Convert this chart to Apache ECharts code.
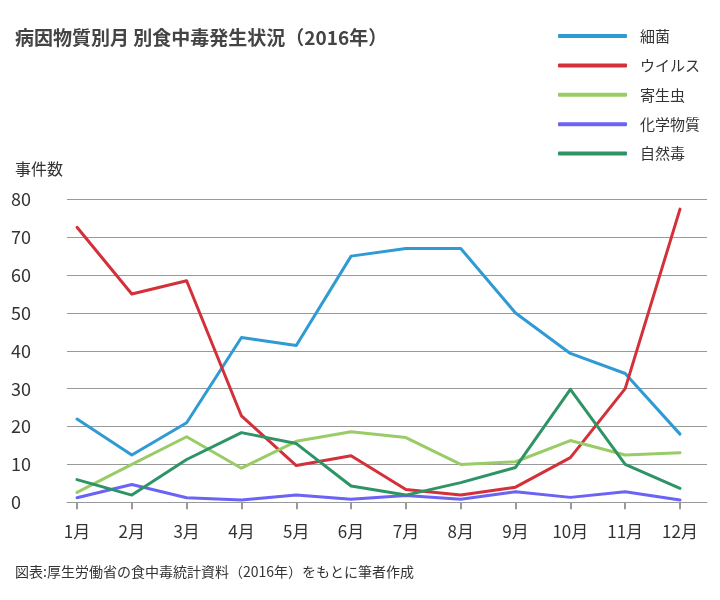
<!DOCTYPE html>
<html><head><meta charset="utf-8">
<script src="https://cdn.jsdelivr.net/npm/echarts@6/dist/echarts.min.js"></script>
<style>html,body{margin:0;padding:0;background:#fff}#c{width:720px;height:600px}</style>
</head><body><div id="c"></div>
<script>
const months = [1,2,3,4,5,6,7,8,9,10,11,12];
const monthLabels = ['1月','2月','3月','4月','5月','6月','7月','8月','9月','10月','11月','12月'];
const seriesNames = ['細菌','ウイルス','寄生虫','化学物質','自然毒'];
const bacteria  = [22, 12.5, 21, 43.5, 41.4, 65, 67, 67, 50, 39.3, 34, 18];
const virus     = [72.6, 55, 58.5, 22.8, 9.7, 12.3, 3.4, 1.9, 4, 11.8, 30, 77.4];
const parasite  = [2.6, 10, 17.3, 9, 16.1, 18.6, 17.1, 10, 10.7, 16.3, 12.5, 13.1];
const chemical  = [1.2, 4.7, 1.2, 0.6, 1.9, 0.8, 1.8, 0.8, 2.8, 1.3, 2.8, 0.6];
const natural   = [6, 1.9, 11.3, 18.4, 15.5, 4.3, 1.9, 5.2, 9.2, 29.8, 10, 3.7];
const colors = ['#2f9ad3','#d3303a','#99cc66','#6a63f5','#2e9466'];
const yTicks = [0,10,20,30,40,50,60,70,80];

const values = [bacteria, virus, parasite, chemical, natural];
const font = '"Noto Sans CJK JP","Noto Sans",sans-serif';
const chart = echarts.init(document.getElementById('c'));
chart.setOption({
  animation:false,
  textStyle:{fontFamily:font},
  title:[
    {text:'病因物質別月 別食中毒発生状況（2016年）', left:10, top:23,
     textStyle:{fontSize:19, fontWeight:'bold', color:'#444', fontFamily:font}},
    {text:'事件数', left:10, top:156, textStyle:{fontSize:16, fontWeight:'normal', color:'#333', fontFamily:font}},
    {text:'図表:厚生労働省の食中毒統計資料（2016年）をもとに筆者作成', left:10, top:560,
     textStyle:{fontSize:14, fontWeight:'normal', color:'#333', fontFamily:font}}
  ],
  legend:{
    orient:'vertical', left:553, top:21, itemWidth:69, itemHeight:4, itemGap:9.4,
    icon:'roundRect',
    data:seriesNames,
    textStyle:{fontSize:15, color:'#333', lineHeight:20, padding:[0,0,0,8], fontFamily:font}
  },
  grid:{left:67, right:13, top:199.3, bottom:97.7, containLabel:false},
  xAxis:{
    type:'value', min:0.8176, max:12.4925,
    axisLine:{show:true, lineStyle:{color:'#999', width:1}},
    axisTick:{show:true, customValues:months, length:7, lineStyle:{color:'#999', width:2}},
    axisLabel:{customValues:months, margin:21, fontSize:17, color:'#333',
      formatter:v=>monthLabels[months.indexOf(Math.round(v))]},
    splitLine:{show:false}
  },
  yAxis:{
    type:'value', min:0, max:80, interval:10,
    axisLine:{show:false}, axisTick:{show:false},
    axisLabel:{align:'left', margin:56, fontSize:18, color:'#333'},
    splitLine:{lineStyle:{color:'#999', width:1}}
  },
  series: seriesNames.map((n,i)=>({
    name:n, type:'line', symbol:'none', color:colors[i],
    lineStyle:{width:3, color:colors[i], cap:'round', join:'round'},
    data: months.map((m,j)=>[m, values[i][j]])
  }))
});
</script></body></html>
